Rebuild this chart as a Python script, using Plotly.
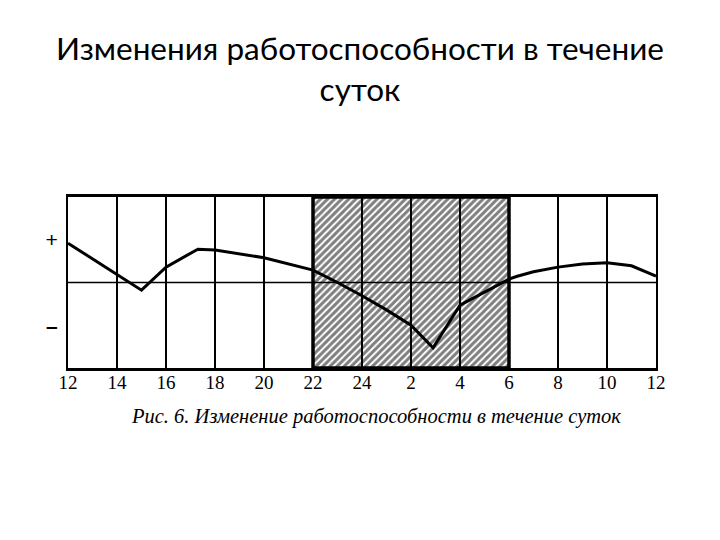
import plotly.graph_objects as go

# Data (hours on a continuous axis: 12 .. 36 == 12:00 .. 12:00 next day)
hours = [12, 14, 15, 16, 17.3, 18, 20, 22, 23, 24, 25, 26, 26.9, 28, 29, 30, 30.3, 31, 32, 33, 34, 35, 36]
perf = [0.92, 0.2, -0.18, 0.36, 0.78, 0.76, 0.58, 0.29, 0.0, -0.31, -0.64, -1.0, -1.53, -0.53, -0.22, 0.08, 0.14, 0.25, 0.36, 0.43, 0.46, 0.39, 0.15]
tick_pos = [12, 14, 16, 18, 20, 22, 24, 26, 28, 30, 32, 34, 36]
tick_text = ["12", "14", "16", "18", "20", "22", "24", "2", "4", "6", "8", "10", "12"]
night_x = [22, 30]
y_range = [-2, 2]

L, T, PW, PH = 60, 189, 588, 171

fig = go.Figure()

# hatched night region
fig.add_trace(go.Scatter(
    x=[night_x[0], night_x[1], night_x[1], night_x[0], night_x[0]],
    y=[y_range[0], y_range[0], y_range[1], y_range[1], y_range[0]],
    mode="lines", line=dict(color="black", width=3.5),
    fill="toself", fillcolor="white",
    fillpattern=dict(shape="/", fgcolor="black", bgcolor="white", size=5, solidity=0.6),
    hoverinfo="skip", showlegend=False,
))

# zero line
fig.add_trace(go.Scatter(x=[12, 36], y=[0, 0], mode="lines",
                         line=dict(color="black", width=1.5), showlegend=False, hoverinfo="skip"))

# vertical grid lines
for t in tick_pos[1:-1]:
    fig.add_trace(go.Scatter(x=[t, t], y=y_range, mode="lines",
                             line=dict(color="black", width=2), showlegend=False, hoverinfo="skip"))

# curve
fig.add_trace(go.Scatter(x=hours, y=perf, mode="lines",
                         line=dict(color="black", width=3), showlegend=False))

fig.update_layout(
    width=720, height=540,
    paper_bgcolor="white", plot_bgcolor="white",
    margin=dict(l=L, r=720 - L - PW, t=T, b=540 - T - PH),
    xaxis=dict(range=[12, 36], tickvals=tick_pos, ticktext=tick_text,
               showgrid=False, zeroline=False, showline=True, mirror=True,
               linecolor="black", linewidth=3, ticks="", ticklabelstandoff=-5,
               tickfont=dict(family="Liberation Serif", size=19, color="black")),
    yaxis=dict(range=y_range, tickvals=[1, -1], ticktext=["+", "<b>–</b>"],
               showgrid=False, zeroline=False, showline=True, mirror=True,
               linecolor="black", linewidth=2, ticks="", ticklabelstandoff=4,
               tickfont=dict(family="Liberation Sans", size=21, color="black")),
    annotations=[
        dict(text="Изменения работоспособности в течение<br>суток",
             x=(352 - L) / PW, y=1.0,
             xref="paper", yref="paper", yanchor="top", xanchor="center", showarrow=False,
             font=dict(family="Lato", size=31.5, color="black"), yshift=170),
        dict(text="<i>Рис. 6. Изменение работоспособности в течение суток</i>",
             x=(367.5 - L) / PW, xref="paper", y=-48 / PH, yref="paper",
             yanchor="middle", xanchor="center", showarrow=False,
             font=dict(family="Liberation Serif", size=20.5, color="black")),
    ],
)

fig.write_html("out.html")
